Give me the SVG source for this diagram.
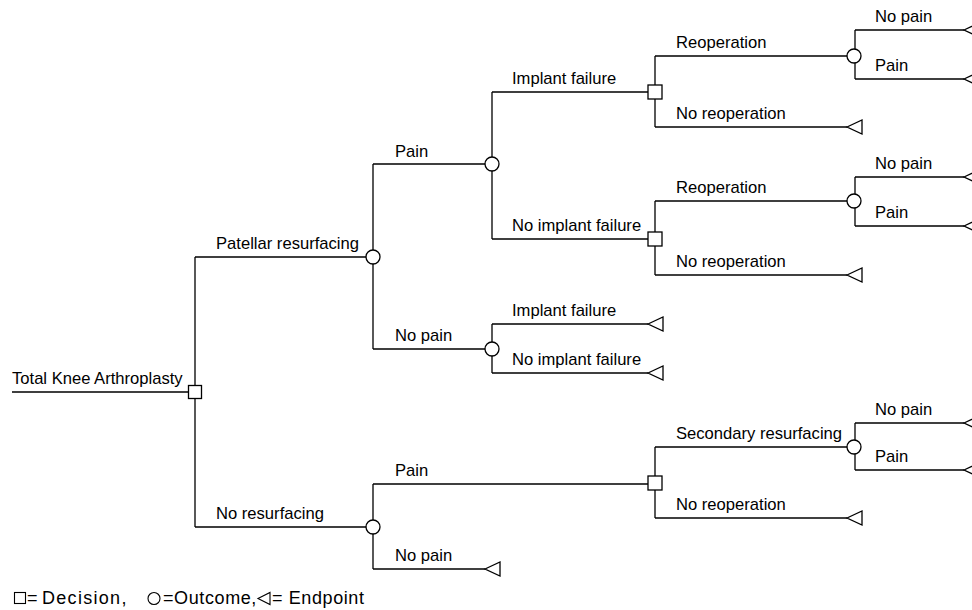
<svg xmlns="http://www.w3.org/2000/svg" width="972" height="610" viewBox="0 0 972 610">
<defs>
<style>
.ln{stroke:#000;stroke-width:1.3;fill:none}
.nd{stroke:#000;stroke-width:1.3;fill:#fff}
.t{font-family:"Liberation Sans",Arial,sans-serif;font-size:16.6px;fill:#000}
.lg{font-family:"Liberation Sans",Arial,sans-serif;font-size:18px;letter-spacing:0.6px;fill:#000}
.ls{fill:none;stroke:#000;stroke-width:1.1}
</style>
<polygon id="tri" points="0,0 15,-7 15,7" class="nd"/>
</defs>
<rect width="972" height="610" fill="#fff"/>
<g id="connectors">
<path class="ln" d="M12,392H195M195,257V527"/>
<path class="ln" d="M195,257H373M373,164V349"/>
<path class="ln" d="M373,164H492M492,92V239"/>
<path class="ln" d="M492,92H655M655,56V127"/>
<path class="ln" d="M655,56H855M855,30V79M855,30H964M855,79H964"/>
<path class="ln" d="M655,127H847"/>
<path class="ln" d="M492,239H655M655,201V275"/>
<path class="ln" d="M655,201H855M855,177V226M855,177H964M855,226H964"/>
<path class="ln" d="M655,275H847"/>
<path class="ln" d="M373,349H492M492,324V373M492,324H648M492,373H648"/>
<path class="ln" d="M195,527H373M373,484V569"/>
<path class="ln" d="M373,484H655M655,447V518"/>
<path class="ln" d="M655,447H855M855,423V470M855,423H964M855,470H964"/>
<path class="ln" d="M655,518H847"/>
<path class="ln" d="M373,569H485"/>
</g>
<g id="n-root"><rect class="nd" x="188.5" y="385.5" width="13" height="13"/><text class="t" x="12" y="384">Total Knee Arthroplasty</text></g>
<g id="n-patellar"><circle class="nd" cx="373" cy="257" r="7"/><text class="t" x="216" y="249">Patellar resurfacing</text></g>
<g id="n-pr-pain"><circle class="nd" cx="492" cy="164" r="7"/><text class="t" x="395" y="157">Pain</text></g>
<g id="n-pr-pain-if"><rect class="nd" x="648" y="85" width="14" height="14"/><text class="t" x="512" y="84">Implant failure</text></g>
<g id="n-pr-pain-if-reop"><circle class="nd" cx="854" cy="56" r="7"/><text class="t" x="676" y="48">Reoperation</text></g>
<g id="n-e1"><use href="#tri" x="964" y="30"/><text class="t" x="875" y="22">No pain</text></g>
<g id="n-e2"><use href="#tri" x="964" y="79"/><text class="t" x="875" y="71">Pain</text></g>
<g id="n-e3"><use href="#tri" x="847" y="127"/><text class="t" x="676" y="119">No reoperation</text></g>
<g id="n-pr-pain-nif"><rect class="nd" x="648" y="232" width="14" height="14"/><text class="t" x="512" y="231">No implant failure</text></g>
<g id="n-pr-pain-nif-reop"><circle class="nd" cx="854" cy="201" r="7"/><text class="t" x="676" y="193">Reoperation</text></g>
<g id="n-e4"><use href="#tri" x="964" y="177"/><text class="t" x="875" y="169">No pain</text></g>
<g id="n-e5"><use href="#tri" x="964" y="226"/><text class="t" x="875" y="218">Pain</text></g>
<g id="n-e6"><use href="#tri" x="847" y="275"/><text class="t" x="676" y="267">No reoperation</text></g>
<g id="n-pr-nopain"><circle class="nd" cx="492" cy="349" r="7"/><text class="t" x="395" y="341">No pain</text></g>
<g id="n-e7"><use href="#tri" x="648" y="324"/><text class="t" x="512" y="316">Implant failure</text></g>
<g id="n-e8"><use href="#tri" x="648" y="373"/><text class="t" x="512" y="365">No implant failure</text></g>
<g id="n-nores"><circle class="nd" cx="373" cy="527" r="7"/><text class="t" x="216" y="519">No resurfacing</text></g>
<g id="n-nr-pain"><rect class="nd" x="648" y="476" width="14" height="14"/><text class="t" x="395" y="476">Pain</text></g>
<g id="n-nr-pain-sec"><circle class="nd" cx="854" cy="447" r="7"/><text class="t" x="676" y="439">Secondary resurfacing</text></g>
<g id="n-e9"><use href="#tri" x="964" y="423"/><text class="t" x="875" y="415">No pain</text></g>
<g id="n-e10"><use href="#tri" x="964" y="470"/><text class="t" x="875" y="462">Pain</text></g>
<g id="n-e11"><use href="#tri" x="847" y="518"/><text class="t" x="676" y="510">No reoperation</text></g>
<g id="n-e12"><use href="#tri" x="485" y="569"/><text class="t" x="395" y="561">No pain</text></g>
<g id="legend">
<rect class="ls" x="14.5" y="592.5" width="11" height="11"/>
<text class="lg" x="27" y="604">=</text>
<text class="lg" x="42" y="604" style="letter-spacing:1.3px">Decision,</text>
<circle class="ls" cx="154" cy="598.5" r="6"/>
<text class="lg" x="163" y="604">=Outcome,</text>
<polygon class="ls" points="258,598.5 270,592.5 270,604.5"/>
<text class="lg" x="272" y="604">= Endpoint</text>
</g>
</svg>
